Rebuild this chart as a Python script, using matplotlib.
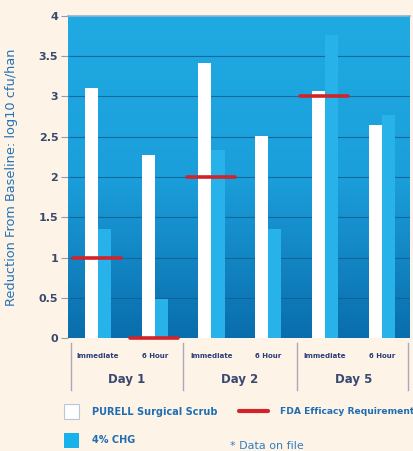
import numpy as np
import matplotlib
matplotlib.use('Agg')
import matplotlib.pyplot as plt
from matplotlib.lines import Line2D
from matplotlib.patches import Rectangle
from matplotlib.colors import LinearSegmentedColormap

# data
days = ['Day 1', 'Day 2', 'Day 5']
times = ['Immediate', '6 Hour']
purell = [3.11, 2.27, 3.42, 2.51, 3.07, 2.65]
chg = [1.35, 0.49, 2.33, 1.35, 3.76, 2.77]
fda = [1, 0, 2, None, 3, None]
yticks = [0, 0.5, 1, 1.5, 2, 2.5, 3, 3.5, 4]
ytick_labels = ['0', '0.5', '1', '1.5', '2', '2.5', '3', '3.5', '4']

bg = '#fdf4e7'
navy = '#3a4870'
blue_txt = '#2272b8'

fig = plt.figure(figsize=(4.13, 4.51), dpi=100, facecolor=bg)
ax = fig.add_axes([68 / 413, 113 / 451, 342 / 413, 322 / 451])

xmin, xmax = -0.53, 5.5
ax.set_xlim(xmin, xmax)
ax.set_ylim(0, 4)

# gradient background
cmap = LinearSegmentedColormap.from_list('bgblue', ['#0a6dac', '#1b9fdb', '#20aae2'])
grad = np.linspace(0, 1, 256).reshape(-1, 1)
ax.imshow(grad, cmap=cmap, origin='lower', aspect='auto',
          extent=[xmin, xmax, 0, 4], zorder=0)

# grid lines
for yv in yticks[:-1]:
    ax.axhline(yv, color='#125d92', lw=0.8, alpha=0.8, zorder=1)

x = np.arange(len(purell))
bw = 0.23
ax.bar(x - bw / 2, purell, width=bw, color='white', zorder=3)
ax.bar(x + bw / 2, chg, width=bw, color='#27b3ea', zorder=2)

for xi, v in zip(x, fda):
    if v is not None:
        ax.plot([xi - 0.44, xi + 0.41], [v, v], color='#d1232a', lw=2.6,
                solid_capstyle='round', zorder=4, clip_on=False)

for s in ['left', 'right', 'bottom']:
    ax.spines[s].set_visible(False)
ax.spines['top'].set_color('#8fb2cf')
ax.spines['top'].set_linewidth(1.2)

ax.set_yticks(yticks)
ax.set_yticklabels(ytick_labels, fontsize=8, fontweight='bold', color=navy)
ax.tick_params(axis='y', length=5, color='#8e9bb0', width=0.8, pad=2)
ax.set_xticks([])

ax.set_ylabel('Reduction From Baseline: log10 cfu/han', fontsize=9.3,
              color=blue_txt, labelpad=15)

# category labels under the axis
for i, xi in enumerate(x):
    ax.text(xi, -0.22, times[i % 2], ha='center', va='center', fontsize=5.0,
            fontweight='bold', color='#2a3c78', clip_on=False)
for j, d in enumerate(days):
    ax.text(2 * j + 0.5, -0.52, d, ha='center', va='center', fontsize=8.5,
            fontweight='bold', color=navy, clip_on=False)
for sx in [-0.47, 1.5, 3.5, 5.46]:
    ax.add_line(Line2D([sx, sx], [-0.06, -0.65], color='#a9a7b8', lw=1.0, clip_on=False))

# legend
fig.patches.append(Rectangle((64 / 413, 1 - 419 / 451), 15 / 413, 15 / 451,
                             transform=fig.transFigure, facecolor='white',
                             edgecolor='#b9c6d6', lw=0.8))
fig.patches.append(Rectangle((64 / 413, 1 - 448 / 451), 15 / 413, 15 / 451,
                             transform=fig.transFigure, facecolor='#17b1ec',
                             edgecolor='none'))
fig.text(92 / 413, 1 - 412 / 451, 'PURELL Surgical Scrub', fontsize=7.0,
         fontweight='bold', color='#1f6db3', va='center')
fig.text(92 / 413, 1 - 440 / 451, '4% CHG', fontsize=7.0,
         fontweight='bold', color='#1f6db3', va='center')
fig.add_artist(Line2D([239 / 413, 268 / 413], [1 - 411 / 451, 1 - 411 / 451],
                      color='#d1232a', lw=3.0, solid_capstyle='round'))
fig.text(280 / 413, 1 - 412 / 451, 'FDA Efficacy Requirement', fontsize=6.6,
         fontweight='bold', color='#1f6db3', va='center')
fig.text(230 / 413, 1 - 446 / 451, '* Data on file', fontsize=8,
         color='#2e7fc2', va='center')

plt.savefig('out.png', dpi=100, facecolor=bg)
